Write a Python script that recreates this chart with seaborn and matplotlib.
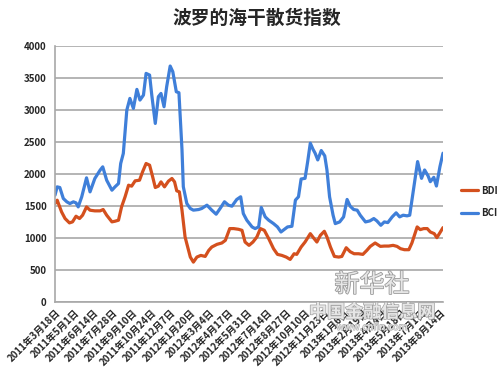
import matplotlib
matplotlib.use("Agg")
import matplotlib.pyplot as plt
import matplotlib.dates as mdates
import matplotlib.patheffects as pe
import seaborn as sns
import pandas as pd

title = "波罗的海干散货指数"

bci_dates = [
    "2011-03-18", "2011-03-23", "2011-03-29", "2011-04-06", "2011-04-14", "2011-04-21", "2011-04-29",
    "2011-05-05", "2011-05-10", "2011-05-18", "2011-05-29", "2011-06-06", "2011-06-17", "2011-06-29",
    "2011-07-05", "2011-07-14", "2011-07-26", "2011-08-02", "2011-08-10", "2011-08-15", "2011-08-21",
    "2011-08-29", "2011-09-05", "2011-09-13", "2011-09-21", "2011-09-28", "2011-10-06", "2011-10-12",
    "2011-10-20", "2011-10-25", "2011-11-02", "2011-11-09", "2011-11-15", "2011-11-22", "2011-11-28",
    "2011-12-06", "2011-12-12", "2011-12-20", "2011-12-26", "2012-01-02", "2012-01-05", "2012-01-13",
    "2012-01-21", "2012-01-28", "2012-02-09", "2012-02-16", "2012-02-28", "2012-03-10", "2012-03-20",
    "2012-03-29", "2012-04-08", "2012-04-17", "2012-04-25", "2012-05-06", "2012-05-15", "2012-05-21",
    "2012-05-29", "2012-06-10", "2012-06-17", "2012-06-25", "2012-07-01", "2012-07-10", "2012-07-18",
    "2012-07-29", "2012-08-07", "2012-08-15", "2012-08-22", "2012-08-30", "2012-09-09", "2012-09-17",
    "2012-09-24", "2012-09-30", "2012-10-09", "2012-10-15", "2012-10-21", "2012-10-27", "2012-11-01",
    "2012-11-07", "2012-11-15", "2012-11-23", "2012-11-28", "2012-12-04", "2012-12-12", "2012-12-17",
    "2012-12-27", "2013-01-05", "2013-01-13", "2013-01-20", "2013-01-28", "2013-02-05", "2013-02-12",
    "2013-02-24", "2013-03-06", "2013-03-15", "2013-03-22", "2013-03-31", "2013-04-08", "2013-04-16",
    "2013-04-26", "2013-05-05", "2013-05-13", "2013-05-21", "2013-05-30", "2013-06-05", "2013-06-14",
    "2013-06-23", "2013-07-02", "2013-07-09", "2013-07-17", "2013-07-22", "2013-07-30", "2013-08-05",
    "2013-08-13", "2013-08-20",
]
bci_values = [
    1669, 1799, 1789, 1617, 1565, 1538, 1565,
    1549, 1486, 1643, 1940, 1721, 1930, 2060,
    2112, 1903, 1747, 1799, 1851, 2164, 2321,
    2999, 3181, 3025, 3322, 3155, 3233, 3572,
    3546, 3233, 2790, 3207, 3259, 3051, 3364,
    3687, 3598, 3285, 3270, 2377, 1801, 1539,
    1461, 1435, 1445, 1461, 1513, 1435, 1372,
    1461, 1566, 1513, 1497, 1602, 1644, 1382,
    1278, 1173, 1147, 1173, 1477, 1330, 1278,
    1225, 1173, 1094, 1131, 1173, 1183, 1592,
    1644, 1922, 1932, 2194, 2482, 2388, 2325,
    2220, 2367, 2283, 2063, 1644, 1356, 1225,
    1251, 1330, 1602, 1497, 1445, 1435, 1356,
    1251, 1267, 1304, 1267, 1199, 1251, 1241,
    1330, 1393, 1330, 1356, 1346, 1356, 1775,
    2194, 1932, 2063, 1969, 1880, 1948, 1812,
    2115, 2325,
]

bdi_dates = [
    "2011-03-18", "2011-03-23", "2011-04-02", "2011-04-10", "2011-04-20", "2011-04-27", "2011-05-05",
    "2011-05-13", "2011-05-20", "2011-05-29", "2011-06-06", "2011-06-17", "2011-06-29", "2011-07-06",
    "2011-07-14", "2011-07-26", "2011-08-02", "2011-08-10", "2011-08-17", "2011-08-25", "2011-09-02",
    "2011-09-09", "2011-09-17", "2011-09-27", "2011-10-04", "2011-10-12", "2011-10-20", "2011-10-27",
    "2011-11-02", "2011-11-09", "2011-11-15", "2011-11-23", "2011-12-02", "2011-12-10", "2011-12-16",
    "2011-12-21", "2011-12-27", "2012-01-02", "2012-01-09", "2012-01-13", "2012-01-21", "2012-01-28",
    "2012-02-05", "2012-02-14", "2012-02-24", "2012-03-03", "2012-03-10", "2012-03-22", "2012-04-02",
    "2012-04-10", "2012-04-20", "2012-04-29", "2012-05-10", "2012-05-18", "2012-05-25", "2012-06-03",
    "2012-06-12", "2012-06-21", "2012-06-29", "2012-07-08", "2012-07-18", "2012-07-29", "2012-08-07",
    "2012-08-17", "2012-08-27", "2012-09-05", "2012-09-14", "2012-09-20", "2012-09-30", "2012-10-09",
    "2012-10-21", "2012-10-28", "2012-11-05", "2012-11-13", "2012-11-22", "2012-11-28", "2012-12-06",
    "2012-12-15", "2012-12-25", "2013-01-01", "2013-01-11", "2013-01-20", "2013-01-29", "2013-02-08",
    "2013-02-18", "2013-02-27", "2013-03-07", "2013-03-18", "2013-03-30", "2013-04-08", "2013-04-18",
    "2013-04-28", "2013-05-07", "2013-05-15", "2013-05-24", "2013-06-03", "2013-06-10", "2013-06-22",
    "2013-06-29", "2013-07-07", "2013-07-15", "2013-07-22", "2013-07-31", "2013-08-06", "2013-08-14",
    "2013-08-20",
]
bdi_values = [
    1538, 1591, 1408, 1304, 1236, 1252, 1340,
    1304, 1356, 1486, 1434, 1424, 1424, 1445,
    1356, 1252, 1262, 1278, 1486, 1643, 1825,
    1810, 1893, 1903, 2034, 2164, 2138, 1956,
    1789, 1810, 1877, 1799, 1888, 1930, 1877,
    1737, 1721, 1434, 1017, 911, 702, 623,
    702, 728, 712, 806, 859, 901, 922,
    963, 1147, 1147, 1136, 1120, 937, 885,
    937, 1016, 1147, 1120, 990, 833, 744,
    728, 702, 665, 754, 744, 859, 937,
    1068, 1005, 937, 1042, 1105, 1016, 859,
    712, 702, 712, 848, 786, 754, 754,
    744, 806, 869, 922, 869, 874, 874,
    885, 869, 833, 817, 817, 922, 1173,
    1131, 1147, 1147, 1094, 1068, 1005, 1094,
    1162,
]

tick_dates = [
    "2011-03-18", "2011-05-01", "2011-06-14", "2011-07-28", "2011-09-10", "2011-10-24", "2011-12-07",
    "2012-01-20", "2012-03-04", "2012-04-17", "2012-05-31", "2012-07-14", "2012-08-27", "2012-10-10",
    "2012-11-23", "2013-01-06", "2013-02-19", "2013-04-04", "2013-05-18", "2013-07-01", "2013-08-14",
]
tick_labels = [
    "2011年3月18日", "2011年5月1日", "2011年6月14日", "2011年7月28日", "2011年9月10日",
    "2011年10月24日", "2011年12月7日", "2012年1月20日", "2012年3月4日", "2012年4月17日",
    "2012年5月31日", "2012年7月14日", "2012年8月27日", "2012年10月10日", "2012年11月23日",
    "2013年1月6日", "2013年2月19日", "2013年4月4日", "2013年5月18日", "2013年7月1日",
    "2013年8月14日",
]
y_ticks = [0, 500, 1000, 1500, 2000, 2500, 3000, 3500, 4000]

series_names = ["BDI", "BCI"]
colors = {"BDI": "#d4501e", "BCI": "#3f7fd9"}

sns.set_style("white")
plt.rcParams["font.family"] = ["Noto Sans CJK SC", "DejaVu Sans"]

df = pd.concat([
    pd.DataFrame({"date": pd.to_datetime(bdi_dates), "value": bdi_values, "series": "BDI"}),
    pd.DataFrame({"date": pd.to_datetime(bci_dates), "value": bci_values, "series": "BCI"}),
], ignore_index=True)

fig = plt.figure(figsize=(5.0, 3.71), dpi=100)
ax = fig.add_axes([0.11, 0.186, 0.776, 0.690])

for yv in y_ticks:
    ax.axhline(yv, color="#a8a8a8", lw=1.2, zorder=0)

sns.lineplot(data=df, x="date", y="value", hue="series", hue_order=series_names,
             palette=colors, linewidth=2.3, ax=ax, legend=False, estimator=None, sort=True)

ax.set_ylim(0, 4000)
ax.set_xlim(pd.Timestamp("2011-03-18"), pd.Timestamp("2013-08-20"))
ax.set_yticks(y_ticks)
ax.set_yticklabels([str(v) for v in y_ticks], fontsize=7, fontweight="bold")
ax.set_xticks(pd.to_datetime(tick_dates))
ax.set_xticklabels(tick_labels, rotation=45, ha="right", va="top",
                   rotation_mode="anchor", fontsize=7, fontweight="bold")
ax.tick_params(axis="both", length=0, pad=6)
ax.tick_params(axis="x", pad=4)
ax.set_xlabel("")
ax.set_ylabel("")
for s in ["top", "right"]:
    ax.spines[s].set_visible(False)
ax.spines["left"].set_color("#a8a8a8")
ax.spines["bottom"].set_color("#a8a8a8")
ax.spines["left"].set_linewidth(1.2)
ax.spines["bottom"].set_linewidth(1.2)

from matplotlib.lines import Line2D
handles = [Line2D([0], [0], color=colors[n], lw=2.3) for n in series_names]
fig.legend(handles, series_names, loc="center left", bbox_to_anchor=(0.905, 1 - 202 / 371),
           frameon=False, handlelength=1.7, handletextpad=0.3, labelspacing=1.3,
           prop={"size": 7, "weight": "bold"})

fig.text(0.514, 1 - 18 / 371, title, ha="center", va="center", fontsize=13.5, fontweight="bold")

# watermark
fig.text(372 / 500, 1 - 285 / 371, "新华社", ha="center", va="center", fontsize=18,
         color="#e6e6e6", style="italic",
         path_effects=[pe.withStroke(linewidth=1.2, foreground="#9a9a9a")])
fig.text(372 / 500, 1 - 312 / 371, "中国金融信息网", ha="center", va="center", fontsize=13,
         color="#e6e6e6", fontweight="bold",
         path_effects=[pe.withStroke(linewidth=1.0, foreground="#a0a0a0")])
fig.text(372 / 500, 1 - 327 / 371, "www.cnfin.com", ha="center", va="center", fontsize=7,
         color="#e6e6e6",
         path_effects=[pe.withStroke(linewidth=0.8, foreground="#b0b0b0")])

fig.savefig("out.png", dpi=100)
